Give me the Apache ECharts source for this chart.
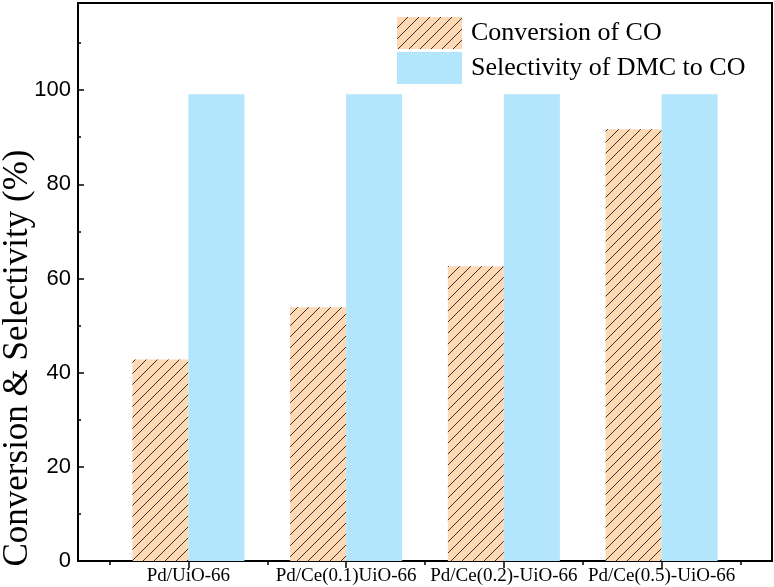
<!DOCTYPE html>
<html>
<head>
<meta charset="utf-8">
<script src="https://cdn.jsdelivr.net/npm/echarts@6/dist/echarts.min.js"></script>
<style>
  html, body { margin: 0; padding: 0; background: #fff; }
  #chart { width: 774px; height: 587px; }
</style>
</head>
<body>
<div id="chart"></div>
<script>
const categories = ['Pd/UiO-66', 'Pd/Ce(0.1)UiO-66', 'Pd/Ce(0.2)-UiO-66', 'Pd/Ce(0.5)-UiO-66'];
const conversion = [42.8, 53.9, 62.6, 91.7];
const selectivity = [99.1, 99.1, 99.1, 99.1];
const catPos = [1, 2, 3, 4];
const minorPos = [0.5, 1.5, 2.5, 3.5, 4.5];

// hatched fill for the conversion bars
function hatch() {
    const s = 11;
    const c = document.createElement('canvas');
    c.width = s; c.height = s;
    const ctx = c.getContext('2d');
    ctx.fillStyle = '#fdd9b5';
    ctx.fillRect(0, 0, s, s);
    ctx.strokeStyle = '#3e3128';
    ctx.lineWidth = 1;
    ctx.beginPath();
    ctx.moveTo(-1, s + 1); ctx.lineTo(s + 1, -1);
    ctx.moveTo(-2, 2); ctx.lineTo(2, -2);
    ctx.moveTo(s - 2, s + 2); ctx.lineTo(s + 2, s - 2);
    ctx.stroke();
    return c;
}

const chart = echarts.init(document.getElementById('chart'));
const serif = 'Liberation Serif';

chart.setOption({
    animation: false,
    grid: {
        left: 78, right: 2, top: 3, bottom: 26,
        outerBoundsMode: 'none',
        show: true, borderColor: '#000', borderWidth: 2, backgroundColor: 'transparent'
    },
    legend: {
        left: 397, top: 17, orient: 'vertical', padding: 0,
        itemWidth: 65, itemHeight: 32, itemGap: 3,
        textStyle: { fontFamily: serif, fontSize: 26, color: '#000', padding: [0, 0, 0, 4] },
        data: ['Conversion of CO', 'Selectivity of DMC to CO'],
        icon: 'rect'
    },
    xAxis: [{
        type: 'value', min: 0.3, max: 4.7,
        splitLine: { show: false },
        axisLine: { lineStyle: { color: '#000', width: 2 } },
        axisTick: { show: true, customValues: catPos, length: 7, inside: false, lineStyle: { color: '#000', width: 1.5 } },
        axisLabel: {
            customValues: catPos, margin: 6,
            fontFamily: serif, fontSize: 19, color: '#000',
            formatter: v => categories[Math.round(v) - 1] || ''
        }
    }, {
        type: 'value', min: 0.3, max: 4.7, position: 'bottom',
        splitLine: { show: false },
        axisLine: { show: false },
        axisTick: { show: true, customValues: minorPos, length: 4, inside: false, lineStyle: { color: '#000', width: 1.5 } },
        axisLabel: { show: false }
    }],
    yAxis: {
        type: 'value', min: 0, max: 118.5, interval: 20,
        name: 'Conversion & Selectivity (%)',
        nameLocation: 'middle', nameGap: 43, nameMoveOverlap: false,
        nameTextStyle: { fontFamily: serif, fontSize: 35, color: '#000', padding: [0, 152, 0, 0] },
        splitLine: { show: false },
        axisLine: { show: true, lineStyle: { color: '#000', width: 2 } },
        axisTick: { show: true, inside: true, length: 6, lineStyle: { color: '#000', width: 1.5 } },
        minorTick: { show: true, splitNumber: 2, length: 3, lineStyle: { color: '#000', width: 1.5 } },
        axisLabel: { showMaxLabel: false, margin: 7, fontFamily: 'Liberation Sans', fontSize: 22, color: '#000' }
    },
    series: [{
        name: 'Conversion of CO',
        type: 'bar',
        barWidth: 56, barGap: '0%',
        itemStyle: { color: { image: hatch(), repeat: 'repeat' } },
        data: conversion.map((v, i) => [catPos[i], v])
    }, {
        name: 'Selectivity of DMC to CO',
        type: 'bar',
        barWidth: 56, barGap: '0%',
        itemStyle: { color: '#b3e5fc' },
        data: selectivity.map((v, i) => [catPos[i], v])
    }]
});
</script>
</body>
</html>
